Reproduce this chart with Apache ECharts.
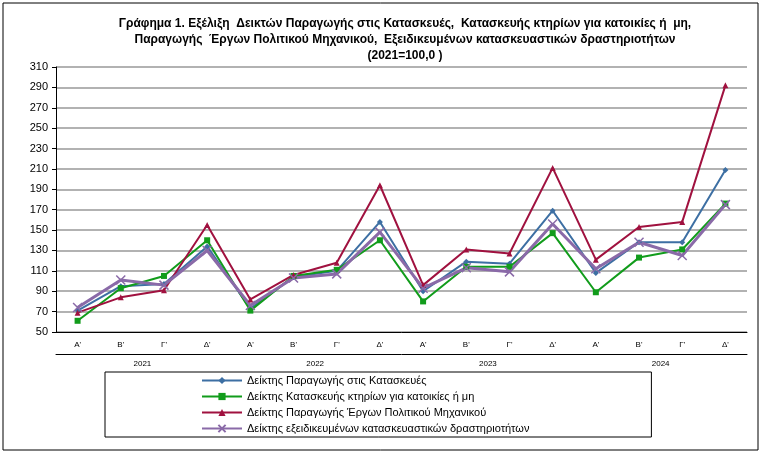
<!DOCTYPE html><html><head><meta charset="utf-8"><script src="https://cdn.jsdelivr.net/npm/echarts@6/dist/echarts.min.js"></script></head><body style="margin:0;background:#fff"><div id="c" style="width:770px;height:454px"></div><script>
const quarters=["Α'","Β'","Γ'","Δ'","Α'","Β'","Γ'","Δ'","Α'","Β'","Γ'","Δ'","Α'","Β'","Γ'","Δ'"];
const years=["2021","2022","2023","2024"];
const names=["Δείκτης Παραγωγής στις Κατασκευές","Δείκτης Κατασκευής κτηρίων για κατοικίες ή μη","Δείκτης Παραγωγής Έργων Πολιτικού Μηχανικού","Δείκτης εξειδικευμένων κατασκευαστικών δραστηριοτήτων"];
const blue=[71,95,97,134,73,104,110,158,90,119,117,169,108,138,138,209];
const green=[61,93,105,140,71,105,111,140,80,114,114,147,89,123,131,176];
const red=[69,84,91,155,82,106,118,194,96,131,127,211,121,153,158,292];
const purple=[74,101,96,130,76,103,107,148,93,113,109,156,112,138,125,175];
const cols=['#3d6fa3','#119c1b','#a0113f','#8a6aa8'];
const syms=['diamond','rect','triangle','path://M0,0L10,10M10,0L0,10'];
const data=[blue,green,red,purple];
const ch=echarts.init(document.getElementById('c'));
ch.setOption({
 animation:false,textStyle:{fontFamily:'Liberation Sans'},
 graphic:[{type:'rect',shape:{x:3,y:3,width:755,height:447},style:{fill:'none',stroke:'#000',lineWidth:1}}],
 title:{text:'Γράφημα 1. Εξέλιξη  Δεικτών Παραγωγής στις Κατασκευές,  Κατασκευής κτηρίων για κατοικίες ή  μη,\nΠαραγωγής  Έργων Πολιτικού Μηχανικού,  Εξειδικευμένων κατασκευαστικών δραστηριοτήτων\n(2021=100,0 )',left:400,textAlign:'center',top:11,textStyle:{fontSize:12,fontWeight:'bold',lineHeight:16,color:'#000'}},
 grid:{left:56,right:23,top:67,bottom:122},
 legend:{orient:'vertical',left:105,top:372,itemGap:5,itemWidth:40,itemHeight:9,borderColor:'#000',borderWidth:1,padding:[3,122,3,96],textStyle:{fontSize:11,color:'#000'},data:names},
 xAxis:[{type:'category',data:quarters,boundaryGap:true,axisLine:{lineStyle:{color:'#000'}},axisTick:{length:22,lineStyle:{color:'#000'}},axisLabel:{fontSize:8,color:'#000',margin:9}},
 {type:'category',data:years,position:'bottom',offset:22,gridIndex:0,axisLine:{show:true,lineStyle:{color:'#000'}},axisTick:{length:16,lineStyle:{color:'#000'}},axisLabel:{fontSize:8,color:'#000',margin:6}}],
 yAxis:{type:'value',min:50,max:310,interval:20,axisLine:{show:true,lineStyle:{color:'#000'}},axisTick:{show:true,length:4,lineStyle:{color:'#000'}},axisLabel:{fontSize:11,color:'#000'},splitLine:{lineStyle:{color:'#999',width:1.5}}},
 series:data.map((d,i)=>({name:names[i],type:'line',data:d,color:cols[i],symbol:syms[i],symbolSize:i==3?9:6,lineStyle:{width:i==3?3:2,color:cols[i]},itemStyle:{color:cols[i],borderColor:cols[i],borderWidth:i==3?1.5:0}}))
});
</script></body></html>
